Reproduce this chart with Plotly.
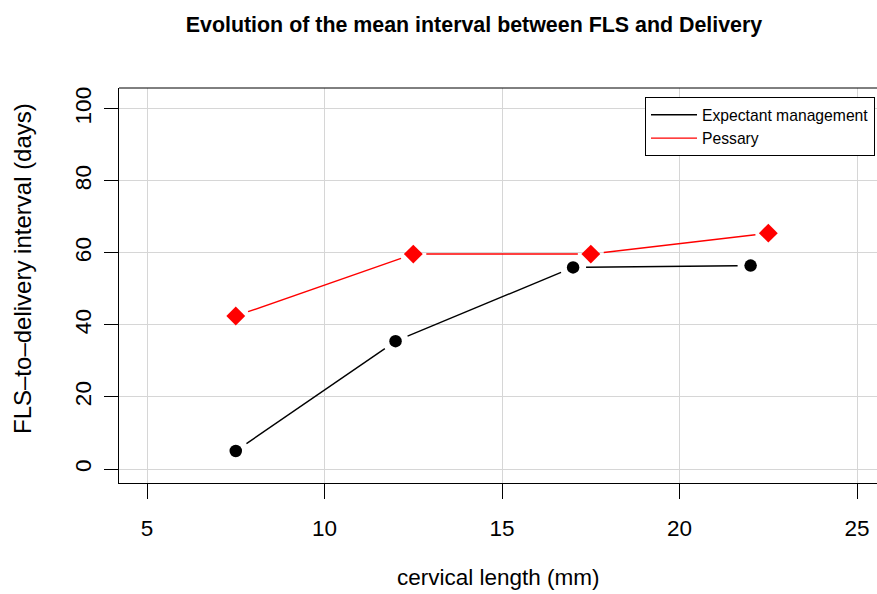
import plotly.graph_objects as go

# ---- data ----
em_x = [7.5, 12, 17, 22]
em_y = [5, 35.5, 56, 56.5]
pe_x = [7.5, 12.5, 17.5, 22.5]
pe_y = [42.5, 59.7, 59.7, 65.5]
x_ticks = [5, 10, 15, 20, 25]
y_ticks = [0, 20, 40, 60, 80, 100]

W, H = 877, 594
ML, MR, MT, MB = 119, 0, 88, 111
XR = [4.211, 25.56]
YR = [-3.89, 105.83]
GAP = 13  # px gap around points (R type="b")

pw = W - ML - MR
ph = H - MT - MB
sx = pw / (XR[1] - XR[0])
sy = ph / (YR[1] - YR[0])


def gapped(xs, ys):
    ox, oy = [], []
    for i in range(len(xs) - 1):
        dxp = (xs[i + 1] - xs[i]) * sx
        dyp = (ys[i + 1] - ys[i]) * sy
        d = (dxp ** 2 + dyp ** 2) ** 0.5
        f = GAP / d
        ox += [xs[i] + (xs[i + 1] - xs[i]) * f, xs[i + 1] - (xs[i + 1] - xs[i]) * f, None]
        oy += [ys[i] + (ys[i + 1] - ys[i]) * f, ys[i + 1] - (ys[i + 1] - ys[i]) * f, None]
    return ox, oy


fig = go.Figure()
for name, xs, ys, col, sym, sz in [
    ("Expectant management", em_x, em_y, "black", "circle", 12.5),
    ("Pessary", pe_x, pe_y, "red", "diamond", 14.5),
]:
    lx, ly = gapped(xs, ys)
    fig.add_trace(go.Scatter(x=lx, y=ly, mode="lines", name=name,
                             line=dict(color=col, width=1.4), connectgaps=False))
    fig.add_trace(go.Scatter(x=xs, y=ys, mode="markers", showlegend=False,
                             marker=dict(color=col, symbol=sym, size=sz, line=dict(width=0))))

font = "Liberation Sans, Arial, Helvetica, sans-serif"
fig.update_layout(
    width=W, height=H,
    margin=dict(l=ML, r=MR, t=MT, b=MB, autoexpand=False),
    paper_bgcolor="white", plot_bgcolor="white",
    font=dict(family=font, color="black"),
    title=dict(text="<b>Evolution of the mean interval between FLS and Delivery</b>",
               x=474 / W, xref="container", xanchor="center",
               y=1 - 25 / H, yanchor="middle", font=dict(size=21.4)),
    legend=dict(x=(645 - ML) / pw, y=1 - 9 / ph, xanchor="left", yanchor="top",
                bgcolor="white", bordercolor="black", borderwidth=1,
                font=dict(size=15.7), tracegroupgap=0, itemwidth=46),
    showlegend=True,
    shapes=[dict(type="line", xref="paper", yref="paper", x0=0, x1=1.01, y0=1, y1=1,
                 line=dict(color="black", width=1), layer="above")],
    annotations=[
        dict(text="cervical length (mm)", xref="paper", yref="paper",
             x=(498 - ML) / pw, y=-(577 - MT - ph) / ph, xanchor="center", yanchor="middle",
             showarrow=False, font=dict(size=22.5)),
        dict(text="FLS–to–delivery interval (days)", xref="paper", yref="paper",
             x=-(ML - 22) / pw, y=(MT + ph - 269) / ph, xanchor="center", yanchor="middle",
             textangle=-90, showarrow=False, font=dict(size=24)),
    ],
)
fig.update_xaxes(
    range=XR, tickvals=x_ticks, ticktext=[str(v) for v in x_ticks],
    showgrid=True, gridcolor="#d6d6d6", gridwidth=1, zeroline=False,
    showline=True, linecolor="black", linewidth=1, mirror=False,
    ticks="outside", ticklen=15, tickcolor="black", tickwidth=1,
    tickfont=dict(size=22.5), ticklabelstandoff=10, automargin=False,
)
fig.update_yaxes(
    range=YR, tickvals=y_ticks, ticktext=[str(v) for v in y_ticks],
    showgrid=True, gridcolor="#d6d6d6", gridwidth=1, zeroline=False,
    showline=True, linecolor="black", linewidth=1, mirror=False,
    ticks="outside", ticklen=14, tickcolor="black", tickwidth=1,
    tickangle=-90, tickfont=dict(size=22.5), ticklabelstandoff=4, automargin=False,
)
fig.write_html("out.html")
